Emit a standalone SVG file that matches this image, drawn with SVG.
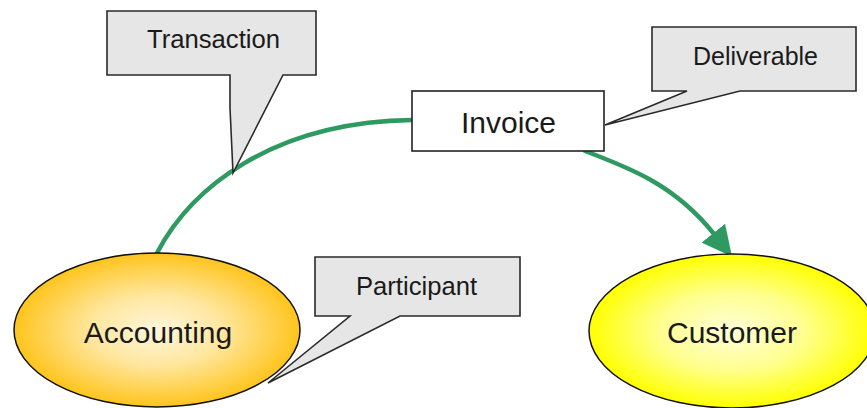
<svg xmlns="http://www.w3.org/2000/svg" width="867" height="408" viewBox="0 0 867 408">
  <style>
    .callout { fill: #e6e6e6; stroke: #2a2a2a; stroke-width: 1.6; stroke-linejoin: miter; }
    .ctext { font-family: "Liberation Sans", Arial, sans-serif; font-size: 25.5px; fill: #1a1a1a; text-anchor: middle; }
    .ntext { font-family: "Liberation Sans", Arial, sans-serif; font-size: 30px; fill: #1a1a1a; text-anchor: middle; }
    .edge { fill: none; stroke: #2e9a62; stroke-width: 4.5; stroke-linecap: round; }
    .oval { stroke: #111; stroke-width: 1.5; }
  </style>
  <defs>
    <radialGradient id="gOrange" cx="0.5" cy="0.5" r="0.5">
      <stop offset="0" stop-color="#fff6dc"/>
      <stop offset="0.45" stop-color="#ffe7a0"/>
      <stop offset="1" stop-color="#ffc41c"/>
    </radialGradient>
    <radialGradient id="gYellow" cx="0.5" cy="0.5" r="0.5">
      <stop offset="0" stop-color="#ffffd8"/>
      <stop offset="0.5" stop-color="#ffff90"/>
      <stop offset="1" stop-color="#ffff00"/>
    </radialGradient>
    <marker id="arrow" markerUnits="userSpaceOnUse" markerWidth="30" markerHeight="30" viewBox="0 0 28 28" refX="1" refY="14" orient="auto">
      <path d="M0,0 L28,14 L0,28 z" fill="#2e9a62"/>
    </marker>
  </defs>

  <g id="connectors">
    <path class="edge" d="M157,253 C190,190 270,122 412,120"/>
    <path class="edge" d="M585,151 C630,168 675,185 714,234" marker-end="url(#arrow)"/>
  </g>

  <g id="accounting">
    <ellipse class="oval" cx="157" cy="330" rx="143" ry="77" fill="url(#gOrange)"/>
    <text class="ntext" x="158" y="343">Accounting</text>
  </g>

  <g id="customer">
    <ellipse class="oval" cx="732" cy="331" rx="143" ry="77" fill="url(#gYellow)"/>
    <text class="ntext" x="732" y="343">Customer</text>
  </g>

  <g id="invoice">
    <rect x="412" y="91" width="192" height="60" fill="#ffffff" stroke="#222" stroke-width="1.6"/>
    <text class="ntext" x="508.5" y="133">Invoice</text>
  </g>

  <g id="transaction">
    <path class="callout" d="M107,11 H316 V75 H283 L233,173 L230,108 V75 H107 Z"/>
    <text class="ctext" x="213.5" y="48" textLength="133" lengthAdjust="spacingAndGlyphs">Transaction</text>
  </g>

  <g id="deliverable">
    <path class="callout" d="M652,27 H856 V91 H740 L605,125 L687,91 H652 Z"/>
    <text class="ctext" x="755.5" y="65" textLength="125" lengthAdjust="spacingAndGlyphs">Deliverable</text>
  </g>

  <g id="participant">
    <path class="callout" d="M315,257 H520 V316 H400 L268,383 L350,316 H315 Z"/>
    <text class="ctext" x="416.5" y="295" textLength="121" lengthAdjust="spacingAndGlyphs">Participant</text>
  </g>
</svg>
